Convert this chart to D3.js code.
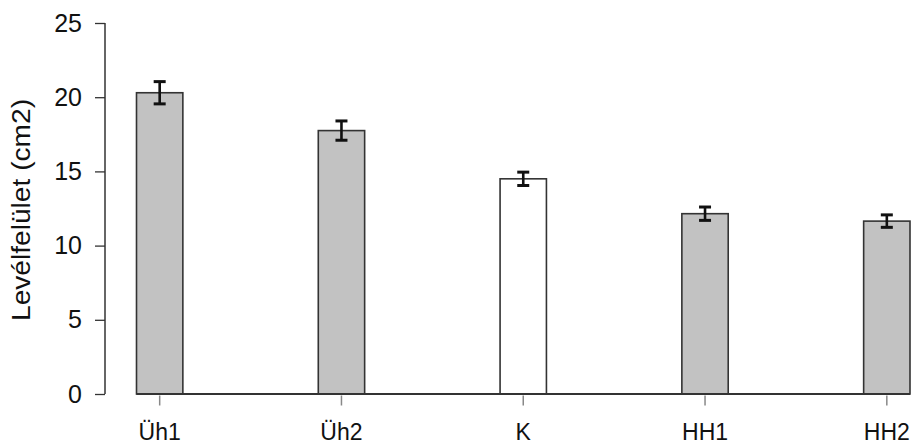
<!DOCTYPE html>
<html>
<head>
<meta charset="utf-8">
<script src="https://cdn.jsdelivr.net/npm/d3@7"></script>
<style>
  html, body { margin: 0; padding: 0; background: #fff; }
  svg { display: block; font-family: "Liberation Sans", Arial, Helvetica, sans-serif; }
</style>
</head>
<body>
<svg id="chart" width="914" height="445"></svg>
<script>
// Leaf area per treatment: means and error-bar half-widths
const categories = ["Üh1", "Üh2", "K", "HH1", "HH2"];
const means = [20.3, 17.75, 14.5, 12.15, 11.65];
const errors = [0.75, 0.65, 0.45, 0.45, 0.42];
const yTicks = [0, 5, 10, 15, 20, 25];
const yTitle = "Levélfelület (cm2)";
const controlCategory = "K";

const data = categories.map((c, i) => ({ cat: c, mean: means[i], err: errors[i] }));

const svg = d3.select("#chart");

const y = d3.scaleLinear().domain([0, 25]).range([394, 23]);
const x = d3.scaleBand().domain(categories).range([136.5, 910]).paddingInner(0.745).paddingOuter(0);

const axisColor = "#333";
const textColor = "#111";

// Y axis: vertical line with outward ticks
const yAxisX = 105;
const yAxis = d3.axisLeft(y).tickValues(yTicks).tickSize(10).tickPadding(13);
const gy = svg.append("g").attr("transform", `translate(${yAxisX},0)`).call(yAxis);
gy.select(".domain").attr("d", `M0,${y(25)}V${y(0)}`).attr("stroke", axisColor).attr("stroke-width", 1.5);
gy.selectAll(".tick line").attr("stroke", axisColor).attr("stroke-width", 1.3);
gy.selectAll(".tick text")
  .attr("font-size", 25)
  .attr("fill", textColor)
  .attr("font-family", "Liberation Sans, Arial, sans-serif");

// Y axis title
svg.append("text")
  .attr("transform", `translate(30,${(98 + 322) / 2}) rotate(-90)`)
  .attr("text-anchor", "middle")
  .attr("font-size", 25)
  .attr("textLength", 222)
  .attr("lengthAdjust", "spacingAndGlyphs")
  .attr("fill", textColor)
  .text(yTitle);

// Bars
svg.append("g").selectAll("rect")
  .data(data)
  .join("rect")
  .attr("x", d => x(d.cat))
  .attr("y", d => y(d.mean))
  .attr("width", x.bandwidth())
  .attr("height", d => y(0) - y(d.mean))
  .attr("fill", d => d.cat === controlCategory ? "#ffffff" : "#c2c2c2")
  .attr("stroke", axisColor)
  .attr("stroke-width", 1.6);

// Baseline spanning the bars
const first = categories[0], last = categories[categories.length - 1];
svg.append("line")
  .attr("x1", x(first)).attr("x2", x(last) + x.bandwidth())
  .attr("y1", y(0)).attr("y2", y(0))
  .attr("stroke", axisColor).attr("stroke-width", 2);

// X axis ticks and labels (ticks only, no domain line)
const xAxis = d3.axisBottom(x).tickSize(10).tickPadding(0);
const gx = svg.append("g").attr("transform", `translate(0,${y(0) + 1.5})`).call(xAxis);
gx.select(".domain").remove();
gx.selectAll(".tick line").attr("stroke", "#888").attr("stroke-width", 1.5);
gx.selectAll(".tick text")
  .attr("y", 44)
  .attr("dy", null)
  .attr("font-size", 23)
  .attr("fill", textColor)
  .attr("font-family", "Liberation Sans, Arial, sans-serif");

// Error bars
const capW = 12;
const eb = svg.append("g").attr("stroke", "#111").attr("stroke-width", 2.6);
data.forEach(d => {
  const cx = x(d.cat) + x.bandwidth() / 2;
  const top = y(d.mean + d.err), bot = y(d.mean - d.err);
  eb.append("line").attr("x1", cx).attr("x2", cx).attr("y1", top).attr("y2", bot);
  eb.append("line").attr("x1", cx - capW / 2).attr("x2", cx + capW / 2).attr("y1", top).attr("y2", top).attr("stroke-width", 3);
  eb.append("line").attr("x1", cx - capW / 2).attr("x2", cx + capW / 2).attr("y1", bot).attr("y2", bot).attr("stroke-width", 3);
});
</script>
</body>
</html>
